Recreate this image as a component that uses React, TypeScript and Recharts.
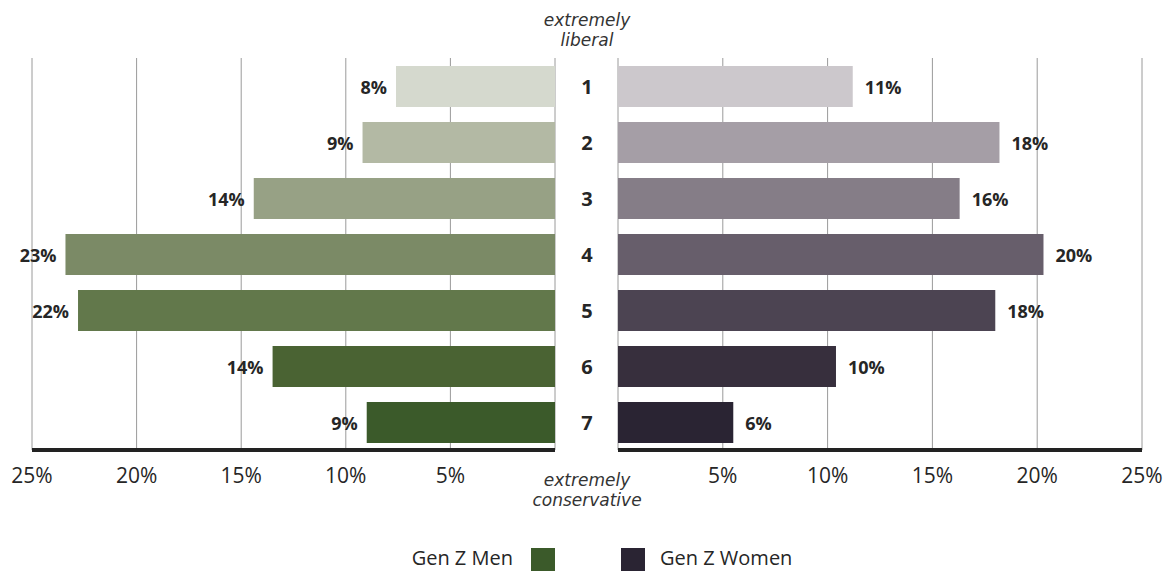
import { Bar, BarChart, CartesianGrid, Cell, LabelList, XAxis, YAxis } from "recharts";

const categories = ["1", "2", "3", "4", "5", "6", "7"];
const menValues = [7.6, 9.2, 14.4, 23.4, 22.8, 13.5, 9.0];
const womenValues = [11.2, 18.2, 16.3, 20.3, 18.0, 10.4, 5.5];
const menLabels = ["8%", "9%", "14%", "23%", "22%", "14%", "9%"];
const womenLabels = ["11%", "18%", "16%", "20%", "18%", "10%", "6%"];
const axisTicks = [0, 5, 10, 15, 20, 25];

const menColors = ["#d5d9ce", "#b3b9a4", "#97a185", "#7b8a66", "#62784b", "#4a6333", "#3b5a2a"];
const womenColors = ["#ccc8cc", "#a59ea6", "#857d87", "#675e6b", "#4c4452", "#372f3d", "#2a2433"];

const FONT = "'Open Sans', sans-serif";
const INK = "#262626";

const menData = categories.map((c, i) => ({ cat: c, v: menValues[i], label: menLabels[i] }));
const womenData = categories.map((c, i) => ({ cat: c, v: womenValues[i], label: womenLabels[i] }));

const pct = (v: number) => (v === 0 ? "" : `${v}%`);

function ValueLabel(props: any) {
  const { x, y, width, height, value, side } = props;
  const cy = y + height / 2;
  const left = Math.min(x, x + width);
  const right = Math.max(x, x + width);
  return (
    <text
      x={side === "left" ? left - 9 : right + 12}
      y={cy}
      textAnchor={side === "left" ? "end" : "start"}
      dominantBaseline="central"
      fontFamily={FONT}
      fontWeight={700}
      fontSize={18}
      fill={INK}
    >
      {value}
    </text>
  );
}

function CenterTick(props: any) {
  const { x, y, payload } = props;
  return (
    <text
      x={x - 23}
      y={y}
      textAnchor="middle"
      dominantBaseline="central"
      fontFamily={FONT}
      fontWeight={700}
      fontSize={20}
      fill={INK}
    >
      {payload.value}
    </text>
  );
}

const tickStyle = { fontSize: 21, fill: INK, fontFamily: FONT };

function MenChart() {
  return (
    <BarChart
      width={575}
      height={571}
      data={menData}
      layout="vertical"
      barSize={41}
      margin={{ top: 58, right: 20, bottom: 71, left: 32 }}
    >
      <CartesianGrid horizontal={false} stroke="#9a9a9a" />
      <XAxis
        type="number"
        domain={[0, 25]}
        ticks={axisTicks}
        reversed
        height={50}
        tickLine={false}
        tickMargin={12}
        tickFormatter={pct}
        tick={tickStyle}
        axisLine={{ stroke: "#222", strokeWidth: 4 }}
      />
      <YAxis type="category" dataKey="cat" hide />
      <Bar dataKey="v" isAnimationActive={false}>
        {menData.map((d, i) => (
          <Cell key={d.cat} fill={menColors[i]} />
        ))}
        <LabelList dataKey="label" content={(p: any) => <ValueLabel {...p} side="left" />} />
      </Bar>
    </BarChart>
  );
}

function WomenChart() {
  return (
    <BarChart
      width={613}
      height={571}
      data={womenData}
      layout="vertical"
      barSize={41}
      margin={{ top: 58, right: 31, bottom: 71, left: 0 }}
    >
      <CartesianGrid horizontal={false} stroke="#9a9a9a" />
      <XAxis
        type="number"
        domain={[0, 25]}
        ticks={axisTicks}
        height={50}
        tickLine={false}
        tickMargin={12}
        tickFormatter={pct}
        tick={tickStyle}
        axisLine={{ stroke: "#222", strokeWidth: 4 }}
      />
      <YAxis type="category" dataKey="cat" width={58} axisLine={false} tickLine={false} tick={<CenterTick />} />
      <Bar dataKey="v" isAnimationActive={false}>
        {womenData.map((d, i) => (
          <Cell key={d.cat} fill={womenColors[i]} />
        ))}
        <LabelList dataKey="label" content={(p: any) => <ValueLabel {...p} side="right" />} />
      </Bar>
    </BarChart>
  );
}

// DejaVu has tight line metrics, so the stacked italic lines can sit close together
const italicNote: React.CSSProperties = {
  position: "absolute",
  left: 487,
  width: 200,
  textAlign: "center",
  fontFamily: "'DejaVu Sans', sans-serif",
  fontStyle: "italic",
  fontSize: 17,
  lineHeight: "20px",
  height: 20,
  color: "#333",
};

export default function App() {
  return (
    <div style={{ position: "absolute", left: 0, top: 0, width: 1173, height: 571, background: "#fff", overflow: "hidden" }}>
      <div style={{ position: "absolute", left: 0, top: 0 }}>
        <MenChart />
      </div>
      <div style={{ position: "absolute", left: 560, top: 0 }}>
        <WomenChart />
      </div>
      <div style={{ ...italicNote, top: 10 }}>extremely</div>
      <div style={{ ...italicNote, top: 30 }}>liberal</div>
      <div style={{ ...italicNote, top: 470 }}>extremely</div>
      <div style={{ ...italicNote, top: 490 }}>conservative</div>
      <div style={{ position: "absolute", top: 548, left: 0, width: 1173, fontFamily: FONT, fontSize: 20, color: INK }}>
        <span style={{ position: "absolute", right: 1173 - 513, top: -4, whiteSpace: "nowrap" }}>Gen Z Men</span>
        <span style={{ position: "absolute", left: 531, top: 0, width: 24, height: 24, background: menColors[6] }} />
        <span style={{ position: "absolute", left: 621, top: 0, width: 24, height: 24, background: womenColors[6] }} />
        <span style={{ position: "absolute", left: 660, top: -4, whiteSpace: "nowrap" }}>Gen Z Women</span>
      </div>
    </div>
  );
}
